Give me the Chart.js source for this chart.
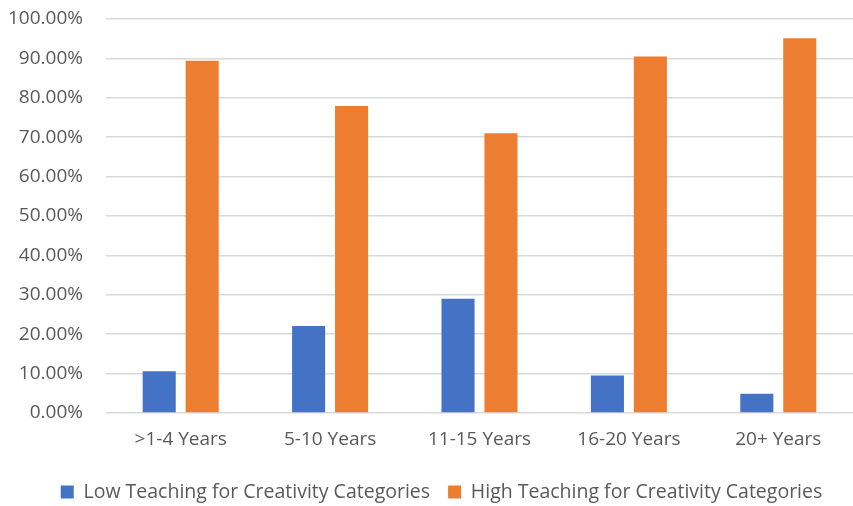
<!DOCTYPE html>
<html>
<head>
<meta charset="utf-8">
<script src="https://cdn.jsdelivr.net/npm/chart.js@4"></script>
<style>
  html, body { margin: 0; padding: 0; background: #fff; }
  #wrap { width: 853px; height: 506px; }
</style>
</head>
<body>
<div id="wrap"><canvas id="chart" width="853" height="506"></canvas></div>
<script>
// experience groups
const categories = ['>1-4 Years', '5-10 Years', '11-15 Years', '16-20 Years', '20+ Years'];

// percentages
const lowValues = [10.6, 22.1, 29.0, 9.5, 4.9];
const highValues = [89.4, 77.9, 71.0, 90.5, 95.1];

const seriesNames = ['Low Teaching for Creativity Categories', 'High Teaching for Creativity Categories'];
const yTicks = [0, 10, 20, 30, 40, 50, 60, 70, 80, 90, 100];

const textColor = '#595959';
const font = { family: 'Open Sans', size: 19 };

// the legend in the reference sits a little right of centre
const nudgeLegend = {
  id: 'nudgeLegend',
  afterLayout: function (chart) {
    chart.legend.left += 15;
    chart.legend.right += 15;
  }
};

const ctx = document.getElementById('chart').getContext('2d');

new Chart(ctx, {
  type: 'bar',
  data: {
    labels: categories,
    datasets: [
      { label: seriesNames[0], data: lowValues, backgroundColor: '#4472c4' },
      { label: seriesNames[1], data: highValues, backgroundColor: '#ed7d31' }
    ]
  },
  plugins: [nudgeLegend],
  options: {
    responsive: false,
    animation: false,
    layout: { padding: { top: 0, right: 0, left: 0, bottom: -5.75 } },
    datasets: {
      bar: { categoryPercentage: 0.575, barPercentage: 0.77 }
    },
    scales: {
      x: {
        grid: { display: false, drawTicks: false },
        border: { display: false },
        ticks: { color: textColor, font: font, padding: 15.5 },
        afterFit: function (scale) {
          scale.height = 51.25;
        }
      },
      y: {
        min: 0,
        max: 100,
        border: { display: false },
        grid: { color: '#d9d9d9', lineWidth: 1.5, drawTicks: false },
        afterBuildTicks: function (axis) {
          axis.ticks = yTicks.map(v => ({ value: v }));
        },
        afterFit: function (scale) {
          scale.width = 106;
          scale.paddingTop = 19;
          scale.paddingBottom = 0;
        },
        ticks: {
          color: textColor,
          font: font,
          padding: 23,
          callback: v => v.toFixed(2) + '%'
        }
      }
    },
    plugins: {
      legend: {
        position: 'bottom',
        labels: {
          color: textColor,
          font: { family: 'Open Sans', size: 19.5 },
          boxWidth: 13,
          boxHeight: 13,
          padding: 18
        }
      },
      tooltip: { enabled: false }
    }
  }
});
</script>
</body>
</html>
